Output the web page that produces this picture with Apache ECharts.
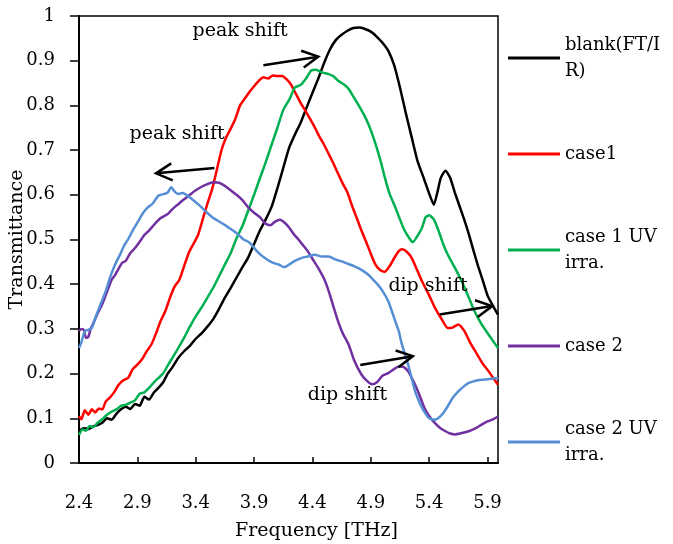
<!DOCTYPE html>
<html>
<head>
<meta charset="utf-8">
<script src="https://cdn.jsdelivr.net/npm/echarts@6/dist/echarts.min.js"></script>
<style>
  html, body { margin: 0; padding: 0; background: #fff; }
  #chart { width: 673px; height: 544px; }
</style>
</head>
<body>
<div id="chart"></div>
<script>
// transmittance spectra, [frequency THz, transmittance]
const blankPts = [[2.40,0.072],[2.44,0.078],[2.48,0.076],[2.52,0.082],[2.56,0.085],[2.60,0.09],[2.64,0.1],[2.68,0.097],[2.72,0.11],[2.76,0.12],[2.80,0.126],[2.84,0.121],[2.88,0.132],[2.92,0.128],[2.96,0.148],[3.00,0.142],[3.04,0.157],[3.08,0.168],[3.12,0.18],[3.16,0.2],[3.20,0.214],[3.25,0.235],[3.30,0.25],[3.35,0.262],[3.40,0.278],[3.45,0.29],[3.50,0.305],[3.55,0.322],[3.60,0.345],[3.65,0.37],[3.70,0.392],[3.75,0.415],[3.80,0.438],[3.85,0.46],[3.90,0.49],[3.95,0.52],[4.00,0.545],[4.05,0.573],[4.10,0.615],[4.15,0.66],[4.20,0.705],[4.25,0.735],[4.30,0.762],[4.35,0.795],[4.40,0.828],[4.45,0.86],[4.50,0.895],[4.55,0.925],[4.60,0.946],[4.65,0.958],[4.70,0.967],[4.75,0.973],[4.80,0.974],[4.85,0.971],[4.90,0.965],[4.95,0.954],[5.00,0.94],[5.05,0.922],[5.10,0.89],[5.15,0.84],[5.20,0.783],[5.25,0.729],[5.30,0.676],[5.35,0.64],[5.40,0.603],[5.44,0.578],[5.47,0.605],[5.50,0.638],[5.54,0.654],[5.58,0.638],[5.62,0.605],[5.66,0.575],[5.70,0.545],[5.74,0.512],[5.78,0.475],[5.82,0.44],[5.86,0.408],[5.90,0.375],[5.95,0.35],[5.99,0.332]];

const case1Pts = [[2.40,0.105],[2.42,0.098],[2.45,0.118],[2.48,0.108],[2.51,0.12],[2.54,0.113],[2.57,0.122],[2.60,0.12],[2.63,0.138],[2.66,0.145],[2.70,0.158],[2.74,0.175],[2.78,0.185],[2.82,0.19],[2.86,0.21],[2.90,0.22],[2.94,0.232],[2.98,0.25],[3.02,0.265],[3.06,0.29],[3.10,0.318],[3.14,0.34],[3.18,0.37],[3.22,0.395],[3.26,0.41],[3.30,0.44],[3.34,0.47],[3.38,0.49],[3.42,0.51],[3.46,0.545],[3.50,0.58],[3.54,0.612],[3.58,0.655],[3.62,0.699],[3.66,0.728],[3.70,0.748],[3.74,0.77],[3.78,0.8],[3.82,0.815],[3.86,0.83],[3.90,0.843],[3.94,0.855],[3.98,0.863],[4.02,0.86],[4.06,0.867],[4.10,0.866],[4.14,0.866],[4.18,0.858],[4.22,0.845],[4.26,0.825],[4.30,0.805],[4.34,0.788],[4.38,0.77],[4.42,0.751],[4.46,0.73],[4.50,0.712],[4.54,0.691],[4.58,0.67],[4.62,0.647],[4.66,0.625],[4.70,0.605],[4.74,0.575],[4.78,0.548],[4.82,0.52],[4.86,0.495],[4.90,0.468],[4.94,0.444],[4.98,0.432],[5.02,0.428],[5.06,0.44],[5.10,0.458],[5.14,0.474],[5.17,0.478],[5.21,0.472],[5.25,0.459],[5.30,0.43],[5.34,0.406],[5.40,0.375],[5.45,0.347],[5.50,0.325],[5.56,0.302],[5.60,0.303],[5.65,0.31],[5.70,0.296],[5.75,0.27],[5.80,0.248],[5.86,0.222],[5.91,0.205],[5.95,0.19],[5.99,0.175]];

const case1UvPts = [[2.40,0.063],[2.43,0.075],[2.46,0.072],[2.49,0.083],[2.52,0.08],[2.56,0.09],[2.60,0.098],[2.64,0.108],[2.68,0.115],[2.72,0.12],[2.76,0.128],[2.80,0.13],[2.84,0.135],[2.88,0.14],[2.92,0.155],[2.96,0.158],[3.00,0.168],[3.04,0.18],[3.08,0.19],[3.12,0.2],[3.16,0.218],[3.20,0.235],[3.25,0.257],[3.30,0.28],[3.35,0.305],[3.40,0.328],[3.45,0.348],[3.50,0.37],[3.55,0.392],[3.60,0.418],[3.65,0.444],[3.70,0.47],[3.75,0.503],[3.80,0.53],[3.85,0.565],[3.90,0.6],[3.95,0.637],[4.00,0.673],[4.05,0.712],[4.10,0.75],[4.15,0.79],[4.20,0.812],[4.25,0.84],[4.30,0.846],[4.35,0.862],[4.39,0.878],[4.43,0.88],[4.48,0.874],[4.54,0.87],[4.58,0.865],[4.62,0.855],[4.67,0.847],[4.71,0.837],[4.75,0.82],[4.79,0.803],[4.84,0.78],[4.88,0.758],[4.92,0.73],[4.95,0.706],[4.99,0.67],[5.02,0.639],[5.06,0.603],[5.11,0.572],[5.15,0.545],[5.19,0.52],[5.23,0.503],[5.26,0.494],[5.30,0.508],[5.34,0.527],[5.37,0.55],[5.40,0.554],[5.44,0.545],[5.48,0.52],[5.52,0.49],[5.56,0.466],[5.62,0.437],[5.68,0.406],[5.74,0.37],[5.79,0.339],[5.85,0.31],[5.91,0.287],[5.95,0.272],[5.99,0.257]];

const case2Pts = [[2.40,0.295],[2.42,0.3],[2.44,0.298],[2.46,0.28],[2.48,0.282],[2.50,0.3],[2.53,0.317],[2.56,0.335],[2.59,0.35],[2.62,0.369],[2.65,0.39],[2.68,0.41],[2.71,0.421],[2.74,0.435],[2.77,0.448],[2.80,0.452],[2.84,0.47],[2.88,0.481],[2.92,0.495],[2.96,0.51],[3.00,0.52],[3.05,0.535],[3.10,0.548],[3.16,0.557],[3.20,0.568],[3.25,0.579],[3.30,0.59],[3.35,0.6],[3.40,0.61],[3.45,0.618],[3.50,0.624],[3.55,0.628],[3.60,0.627],[3.65,0.62],[3.70,0.61],[3.75,0.6],[3.80,0.588],[3.85,0.572],[3.90,0.56],[3.95,0.55],[4.00,0.535],[4.04,0.532],[4.08,0.54],[4.12,0.544],[4.16,0.538],[4.20,0.527],[4.24,0.512],[4.28,0.5],[4.32,0.487],[4.36,0.474],[4.40,0.457],[4.45,0.436],[4.50,0.412],[4.54,0.384],[4.58,0.35],[4.62,0.317],[4.66,0.29],[4.71,0.265],[4.76,0.228],[4.82,0.198],[4.87,0.183],[4.91,0.176],[4.95,0.18],[5.00,0.195],[5.05,0.201],[5.10,0.21],[5.14,0.216],[5.18,0.215],[5.22,0.205],[5.28,0.175],[5.32,0.15],[5.36,0.123],[5.40,0.105],[5.45,0.089],[5.50,0.077],[5.54,0.071],[5.58,0.066],[5.62,0.064],[5.68,0.067],[5.74,0.071],[5.80,0.078],[5.85,0.086],[5.90,0.093],[5.95,0.098],[5.99,0.104]];

const case2UvPts = [[2.40,0.257],[2.42,0.27],[2.45,0.295],[2.48,0.298],[2.51,0.302],[2.54,0.325],[2.57,0.345],[2.60,0.365],[2.63,0.385],[2.66,0.41],[2.69,0.432],[2.72,0.45],[2.75,0.465],[2.79,0.488],[2.82,0.5],[2.86,0.52],[2.91,0.542],[2.95,0.56],[2.99,0.572],[3.03,0.58],[3.08,0.598],[3.13,0.602],[3.16,0.605],[3.19,0.617],[3.22,0.607],[3.25,0.602],[3.29,0.604],[3.33,0.598],[3.38,0.588],[3.42,0.579],[3.47,0.567],[3.51,0.557],[3.55,0.548],[3.59,0.542],[3.64,0.534],[3.68,0.527],[3.72,0.52],[3.76,0.512],[3.81,0.5],[3.85,0.495],[3.88,0.488],[3.92,0.475],[3.96,0.465],[3.99,0.459],[4.03,0.452],[4.07,0.447],[4.11,0.444],[4.16,0.438],[4.20,0.444],[4.25,0.452],[4.31,0.459],[4.36,0.462],[4.42,0.466],[4.48,0.462],[4.54,0.462],[4.60,0.455],[4.65,0.451],[4.70,0.446],[4.76,0.44],[4.82,0.432],[4.88,0.421],[4.92,0.41],[4.96,0.399],[5.00,0.385],[5.05,0.362],[5.08,0.34],[5.11,0.317],[5.14,0.295],[5.16,0.272],[5.19,0.245],[5.22,0.22],[5.25,0.19],[5.28,0.16],[5.31,0.14],[5.34,0.123],[5.37,0.11],[5.40,0.1],[5.45,0.097],[5.51,0.108],[5.56,0.127],[5.60,0.145],[5.65,0.16],[5.70,0.172],[5.74,0.179],[5.80,0.184],[5.85,0.186],[5.92,0.188],[5.99,0.19]];

const seriesNames = ['blank(FT/IR)', 'case1', 'case 1 UV irra.', 'case 2', 'case 2 UV irra.'];
const legendLabels = ['blank(FT/I\nR)', 'case1', 'case 1 UV\nirra.', 'case 2', 'case 2 UV\nirra.'];
const seriesColors = ['#000000', '#ff0000', '#00b050', '#7030a0', '#558ed5'];
const seriesPts = [blankPts, case1Pts, case1UvPts, case2Pts, case2UvPts];

// annotation arrows [fromX, fromY, toX, toY] and texts, in data units
const arrowLines = [
    [3.98, 0.890, 4.45, 0.909],
    [3.56, 0.660, 3.06, 0.648],
    [4.81, 0.219, 5.26, 0.239],
    [5.49, 0.332, 5.94, 0.351]
];
const noteTexts = [
    ['peak shift', 3.78, 0.966],
    ['peak shift', 3.24, 0.736],
    ['dip shift', 4.70, 0.153],
    ['dip shift', 5.39, 0.395]
];

const FONT = 'DejaVu Serif';

const chart = echarts.init(document.getElementById('chart'));

const series = seriesNames.map((name, i) => ({
    name: name,
    type: 'line',
    data: seriesPts[i],
    symbol: 'none',
    smooth: 0.2,
    lineStyle: { color: seriesColors[i], width: 2.5 },
    itemStyle: { color: seriesColors[i] },
    animation: false
}));

series[series.length - 1].markPoint = {
    silent: true,
    animation: false,
    symbol: 'circle',
    symbolSize: 0,
    label: {
        show: true,
        position: 'inside',
        formatter: p => p.name,
        color: '#000',
        fontFamily: FONT,
        fontSize: 19
    },
    data: noteTexts.map(t => ({ name: t[0], coord: [t[1], t[2]] }))
};

// arrows: shaft + open head, placed through the axes
series.push({
    type: 'custom',
    name: 'arrows',
    silent: true,
    animation: false,
    z: 5,
    data: arrowLines,
    encode: { x: [0, 2], y: [1, 3] },
    renderItem: (params, api) => {
        const a = api.coord([api.value(0), api.value(1)]);
        const b = api.coord([api.value(2), api.value(3)]);
        const dx = b[0] - a[0], dy = b[1] - a[1];
        const len = Math.sqrt(dx * dx + dy * dy);
        const ux = dx / len, uy = dy / len;
        const headLen = 16, headHalf = 8.5;
        const baseX = b[0] - ux * headLen, baseY = b[1] - uy * headLen;
        const h1 = [baseX - uy * headHalf, baseY + ux * headHalf];
        const h2 = [baseX + uy * headHalf, baseY - ux * headHalf];
        const st = { stroke: '#000', lineWidth: 2.5, fill: null };
        return {
            type: 'group',
            children: [
                { type: 'line', shape: { x1: a[0], y1: a[1], x2: b[0], y2: b[1] }, style: st },
                { type: 'polyline', shape: { points: [h1, b, h2] }, style: st }
            ]
        };
    }
});

const option = {
    backgroundColor: '#fff',
    animation: false,
    textStyle: { fontFamily: FONT },
    grid: {
        left: 79, right: 175, top: 16, bottom: 81,
        containLabel: false,
        outerBoundsMode: 'none',
        show: true, borderColor: '#000', borderWidth: 1.5, backgroundColor: 'transparent'
    },
    legend: {
        orient: 'vertical',
        left: 508,
        top: 19,
        padding: 0,
        itemGap: 44,
        itemWidth: 52,
        itemHeight: 3,
        icon: 'rect',
        selectedMode: false,
        textStyle: { fontFamily: FONT, fontSize: 18, color: '#000', lineHeight: 26 },
        formatter: name => legendLabels[seriesNames.indexOf(name)],
        data: seriesNames.map(n => {
            const twoLines = legendLabels[seriesNames.indexOf(n)].indexOf('\n') >= 0;
            return twoLines ? { name: n, textStyle: { padding: [26, 0, 0, 0] } } : { name: n };
        })
    },
    xAxis: {
        type: 'value',
        min: 2.4,
        max: 5.99,
        interval: 0.5,
        name: 'Frequency [THz]',
        nameLocation: 'middle',
        nameGap: 59,
        nameTextStyle: { fontFamily: FONT, fontSize: 19, color: '#000', padding: [0, 0, 0, 56] },
        axisLine: { lineStyle: { color: '#000', width: 2 } },
        axisTick: { inside: true, length: 6, lineStyle: { color: '#000', width: 1.5 } },
        axisLabel: {
            color: '#000', fontFamily: FONT, fontSize: 18, margin: 31,
            showMaxLabel: false,
            formatter: v => v.toFixed(1)
        },
        splitLine: { show: false }
    },
    yAxis: {
        type: 'value',
        min: 0,
        max: 1,
        interval: 0.1,
        name: 'Transmittance',
        nameLocation: 'middle',
        nameGap: 52,
        nameMoveOverlap: false,
        nameTextStyle: { fontFamily: FONT, fontSize: 19, color: '#000' },
        axisLine: { show: true, lineStyle: { color: '#000', width: 2 } },
        axisTick: { show: true, length: 9, lineStyle: { color: '#000', width: 1.5 } },
        axisLabel: {
            color: '#000', fontFamily: FONT, fontSize: 18, margin: 24,
            formatter: v => String(+v.toFixed(1))
        },
        splitLine: { show: false }
    },
    series: series
};

chart.setOption(option);
</script>
</body>
</html>
